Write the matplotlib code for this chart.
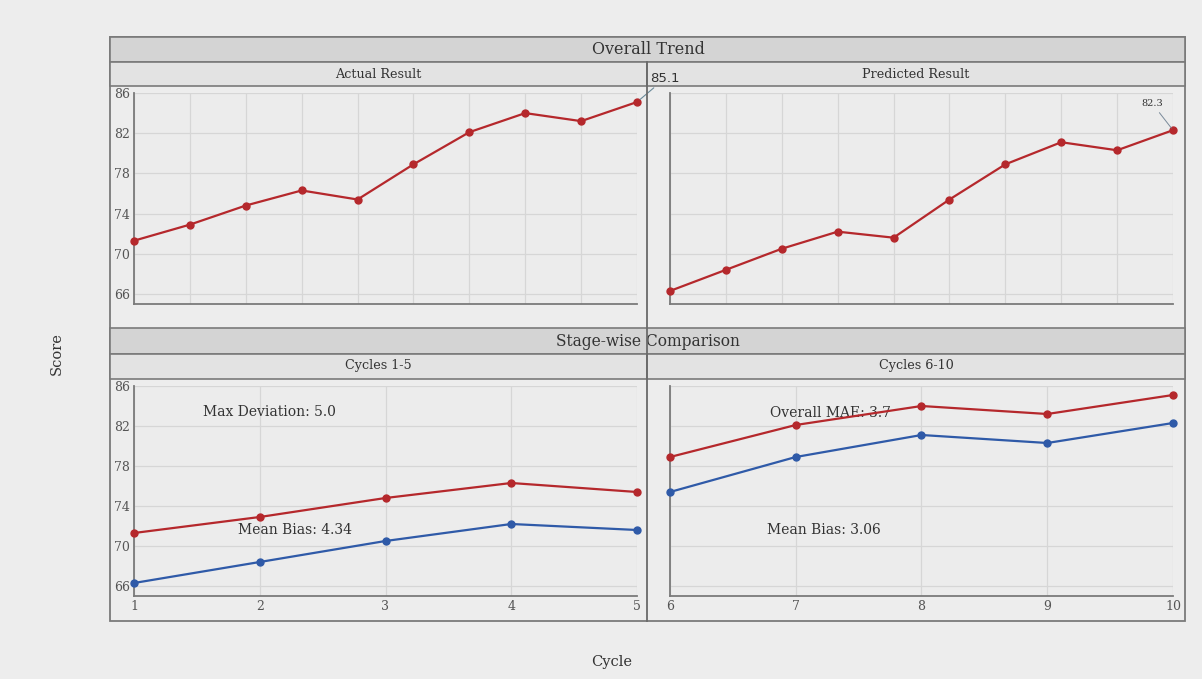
import matplotlib
matplotlib.use('Agg')
import matplotlib.pyplot as plt
from matplotlib.patches import Rectangle
from matplotlib.lines import Line2D

# Данные
cycles = [1, 2, 3, 4, 5, 6, 7, 8, 9, 10]
actual = [71.3, 72.9, 74.8, 76.3, 75.4, 78.9, 82.1, 84.0, 83.2, 85.1]
predicted = [66.3, 68.4, 70.5, 72.2, 71.6, 75.4, 78.9, 81.1, 80.3, 82.3]
y_ticks = [66, 70, 74, 78, 82, 86]

RED = '#b5282c'
BLUE = '#2f5aa8'
W, H = 1202, 679
SERIF = 'DejaVu Serif'


def fx(x):
    return x / W


def fy(y):
    return 1 - y / H


def box(fig, x0, y0, x1, y1, face, edge='#7a7a7a', lw=1.2, z=1):
    r = Rectangle((fx(x0), fy(y1)), (x1 - x0) / W, (y1 - y0) / H,
                  transform=fig.transFigure, facecolor=face, edgecolor=edge,
                  linewidth=lw, zorder=z)
    fig.add_artist(r)


def make_ax(fig, x0, y0, x1, y1):
    ax = fig.add_axes([fx(x0), fy(y1), (x1 - x0) / W, (y1 - y0) / H])
    ax.set_zorder(2)
    ax.set_facecolor('#ececec')
    ax.set_ylim(65, 86)
    ax.set_yticks(y_ticks)
    ax.grid(True, color='#d6d6d6', linewidth=0.9)
    ax.set_axisbelow(True)
    for s in ['top', 'right']:
        ax.spines[s].set_visible(False)
    for s in ['left', 'bottom']:
        ax.spines[s].set_color('#7a7a7a')
        ax.spines[s].set_linewidth(1.3)
    ax.tick_params(length=0, labelsize=9, labelcolor='#555555', pad=3)
    for lab in ax.get_yticklabels() + ax.get_xticklabels():
        lab.set_family(SERIF)
    return ax


def plot_line(ax, x, y, color):
    ax.plot(x, y, color=color, linewidth=1.6, marker='o', markersize=5,
            clip_on=False, zorder=3)


def main():
    fig = plt.figure(figsize=(W / 100, H / 100), dpi=100)
    fig.patch.set_facecolor('#ededed')

    # рамки и заголовки
    box(fig, 110, 37, 1185, 621, 'none', lw=1.3, z=0.5)
    box(fig, 110, 37, 1185, 62, '#d4d4d4')
    box(fig, 110, 62, 647, 86, '#e3e3e3')
    box(fig, 647, 62, 1185, 86, '#e3e3e3')
    box(fig, 110, 328, 1185, 354, '#d4d4d4')
    box(fig, 110, 354, 647, 379, '#e3e3e3')
    box(fig, 647, 354, 1185, 379, '#e3e3e3')

    fig.text(fx(648), fy(50), 'Overall Trend', ha='center', va='center',
             fontsize=11.5, family=SERIF, color='#333333', zorder=3)
    fig.text(fx(378), fy(74), 'Actual Result', ha='center', va='center',
             fontsize=9.2, family=SERIF, color='#333333', zorder=3)
    fig.text(fx(916), fy(74), 'Predicted Result', ha='center', va='center',
             fontsize=9.2, family=SERIF, color='#333333', zorder=3)
    fig.text(fx(648), fy(341), 'Stage-wise Comparison', ha='center', va='center',
             fontsize=11.2, family=SERIF, color='#333333', zorder=3)
    fig.text(fx(378), fy(366), 'Cycles 1-5', ha='center', va='center',
             fontsize=9.2, family=SERIF, color='#333333', zorder=3)
    fig.text(fx(916), fy(366), 'Cycles 6-10', ha='center', va='center',
             fontsize=9.2, family=SERIF, color='#333333', zorder=3)

    fig.text(fx(57), fy(354), 'Score', rotation=90, ha='center', va='center',
             fontsize=10.5, family=SERIF, color='#333333')
    fig.text(fx(612), fy(662), 'Cycle', ha='center', va='center',
             fontsize=10.5, family=SERIF, color='#333333')

    # верхний ряд
    ax1 = make_ax(fig, 134, 93, 637, 304)
    ax1.set_xlim(1, 10)
    ax1.set_xticks(cycles)
    ax1.set_xticklabels([])
    plot_line(ax1, cycles, actual, RED)
    ax1.annotate(f'{actual[-1]}', xy=(cycles[-1], actual[-1]),
                 xytext=(13, 17), textcoords='offset pixels',
                 ha='left', va='bottom', fontsize=9.5, color='#333333',
                 arrowprops=dict(arrowstyle='-', color='#6a8a9a', lw=0.8,
                                 shrinkA=0, shrinkB=3),
                 annotation_clip=False, zorder=6)

    ax2 = make_ax(fig, 670, 93, 1173, 304)
    ax2.set_xlim(1, 10)
    ax2.set_xticks(cycles)
    ax2.set_xticklabels([])
    ax2.set_yticklabels([])
    plot_line(ax2, cycles, predicted, RED)
    ax2.annotate(f'{predicted[-1]}', xy=(cycles[-1], predicted[-1]),
                 xytext=(-21, 27), textcoords='offset pixels',
                 ha='center', va='center', fontsize=7, family=SERIF,
                 color='#333333',
                 arrowprops=dict(arrowstyle='-', color='#7a8a9a', lw=0.7),
                 annotation_clip=False)

    # нижний ряд
    ax3 = make_ax(fig, 134, 386, 637, 596)
    ax3.set_xlim(1, 5)
    ax3.set_xticks(cycles[:5])
    for lab in ax3.get_xticklabels():
        lab.set_family(SERIF)
    plot_line(ax3, cycles[:5], actual[:5], RED)
    plot_line(ax3, cycles[:5], predicted[:5], BLUE)
    ax3.text(2.08, 83.4, 'Max Deviation: 5.0', ha='center', va='center',
             fontsize=10, family=SERIF, color='#333333')
    ax3.text(2.28, 71.6, 'Mean Bias: 4.34', ha='center', va='center',
             fontsize=10, family=SERIF, color='#333333', zorder=4)

    ax4 = make_ax(fig, 670, 386, 1173, 596)
    ax4.set_xlim(6, 10)
    ax4.set_xticks(cycles[5:])
    ax4.set_yticklabels([])
    for lab in ax4.get_xticklabels():
        lab.set_family(SERIF)
    plot_line(ax4, cycles[5:], actual[5:], RED)
    plot_line(ax4, cycles[5:], predicted[5:], BLUE)
    ax4.text(7.28, 83.3, 'Overall MAE: 3.7', ha='center', va='center',
             fontsize=10, family=SERIF, color='#333333', zorder=2)
    ax4.text(7.22, 71.6, 'Mean Bias: 3.06', ha='center', va='center',
             fontsize=10, family=SERIF, color='#333333')

    # разделитель поверх всего
    fig.add_artist(Line2D([fx(647), fx(647)], [fy(62), fy(621)],
                          transform=fig.transFigure, color='#6a6a6a',
                          linewidth=1.3, zorder=5))

    fig.savefig('out.png', dpi=100, facecolor=fig.get_facecolor())


if __name__ == '__main__':
    main()
